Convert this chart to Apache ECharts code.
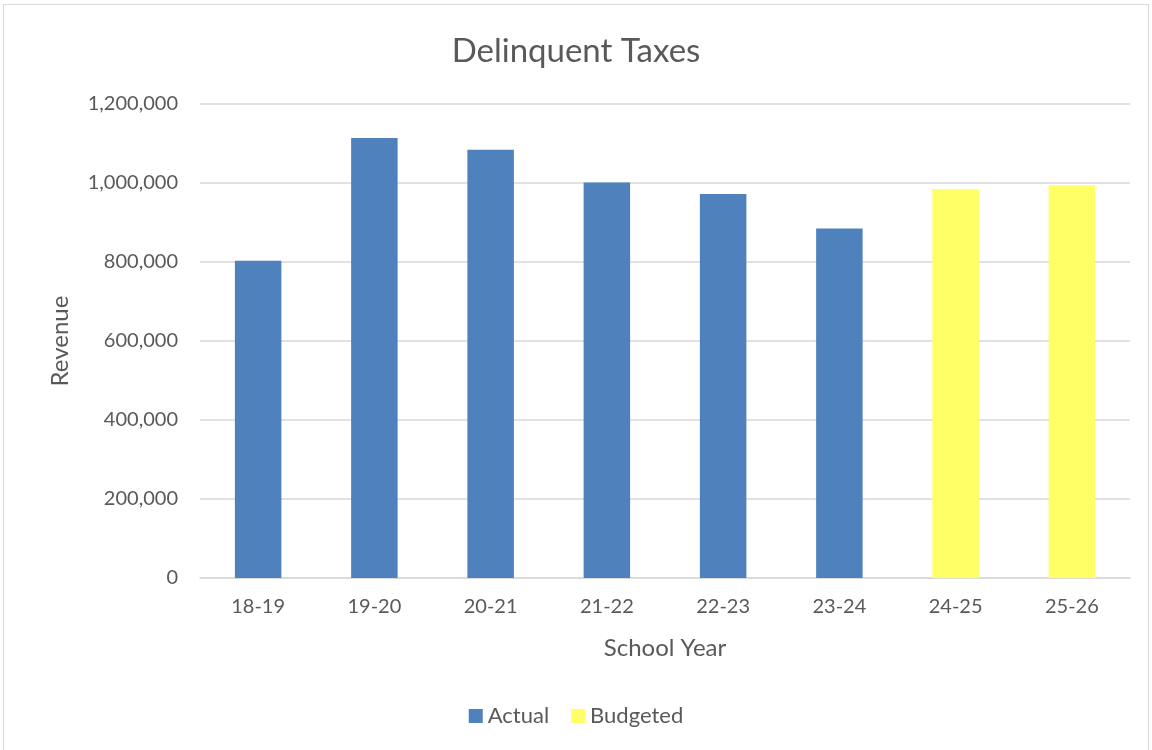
<!DOCTYPE html>
<html>
<head>
    <meta charset="utf-8">
    <title>Delinquent Taxes</title>
    <script src="https://cdn.jsdelivr.net/npm/echarts@6/dist/echarts.min.js"></script>
    <style>
        html, body { margin: 0; padding: 0; background: #fff; }
        #frame { position: absolute; left: 3px; top: 4px; width: 1146px; height: 760px; border: 1px solid #d9d9d9; box-sizing: border-box; }
        #chart { position: absolute; left: 0; top: 0; width: 1152px; height: 750px; }
    </style>
</head>
<body>
<div id="frame"></div>
<div id="chart"></div>
<script>
    // 数据
    var years = ['18-19', '19-20', '20-21', '21-22', '22-23', '23-24', '24-25', '25-26'];
    var actual = [803000, 1114000, 1084000, 1001000, 972000, 885000, null, null];
    var budgeted = [null, null, null, null, null, null, 985000, 994000];

    var font = 'Lato, "Open Sans", sans-serif';
    var myChart = echarts.init(document.getElementById('chart'));
    myChart.setOption({
        textStyle: { fontFamily: font },
        title: {
            text: 'Delinquent Taxes',
            left: 'center',
            top: 30,
            textStyle: { fontFamily: font, fontSize: 33, fontWeight: 'normal', color: '#595959' }
        },
        legend: {
            bottom: 18,
            left: 'center',
            itemWidth: 14,
            itemHeight: 14,
            itemGap: 22,
            icon: 'rect',
            textStyle: { fontFamily: font, fontSize: 22, color: '#595959' },
            data: ['Actual', 'Budgeted']
        },
        grid: { left: 200, right: 22, top: 104, bottom: 172 },
        xAxis: {
            type: 'category',
            data: years,
            name: 'School Year',
            nameLocation: 'middle',
            nameGap: 58,
            nameTextStyle: { fontFamily: font, fontSize: 24, color: '#595959' },
            axisTick: { show: false },
            axisLine: { lineStyle: { color: '#d9d9d9', width: 1.5 } },
            axisLabel: { fontFamily: font, fontSize: 20, color: '#595959', margin: 19 }
        },
        yAxis: {
            type: 'value',
            min: 0,
            max: 1200000,
            interval: 200000,
            name: 'Revenue',
            nameLocation: 'middle',
            nameGap: 128,
            nameTextStyle: { fontFamily: font, fontSize: 24, color: '#595959' },
            axisLine: { show: false },
            axisTick: { show: false },
            splitLine: { lineStyle: { color: '#d9d9d9', width: 1.5 } },
            axisLabel: {
                fontFamily: font, fontSize: 20, color: '#595959', margin: 22,
                formatter: function (v) { return v.toLocaleString('en-US'); }
            }
        },
        series: [
            {
                name: 'Actual',
                type: 'bar',
                data: actual,
                barWidth: '40%',
                barGap: '-100%',
                itemStyle: { color: '#4f81bd' }
            },
            {
                name: 'Budgeted',
                type: 'bar',
                data: budgeted,
                barWidth: '40%',
                itemStyle: { color: '#ffff66' }
            }
        ]
    });
</script>
</body>
</html>
